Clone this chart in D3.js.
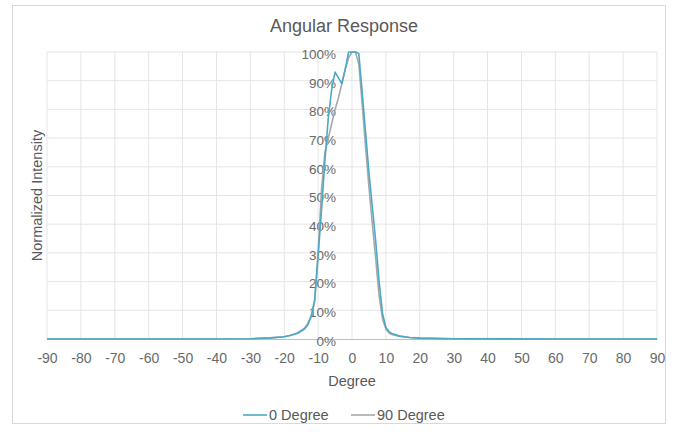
<!DOCTYPE html>
<html>
<head>
<meta charset="utf-8">
<script src="https://cdn.jsdelivr.net/npm/d3@7"></script>
<style>
  body { margin: 0; background: #fff; }
  text { font-family: 'Liberation Sans', Arial, sans-serif; fill: #595959; }
</style>
</head>
<body>
<script>
const w = 675;
const h = 432;

// data
const degrees = [-90, -60, -30, -24, -20, -18, -16, -14, -13, -12, -11, -10, -9, -8, -7, -6, -5, -4, -3, -2, -1, 0, 1, 2, 3, 4, 5, 6, 7, 8, 9, 10, 11, 12, 14, 17, 20, 30, 60, 90];
const deg0 = [0, 0, 0.1, 0.4, 0.8, 1.3, 2, 3.5, 5, 8, 14, 29, 45, 62, 77, 87, 93, 91, 89, 94, 100, 100, 100, 99.5, 86, 72, 58, 46, 34, 20, 9, 4, 2.5, 1.8, 1, 0.5, 0.3, 0.1, 0, 0];
const deg90 = [0, 0, 0.1, 0.4, 0.8, 1.3, 2.2, 3.8, 5.5, 8, 13, 30, 52, 65, 70, 75, 80, 84, 89, 94, 98, 100, 100, 96, 82, 67, 53, 40, 28, 15, 7, 3.5, 2, 1.5, 1, 0.5, 0.3, 0.1, 0, 0];
const seriesNames = ['0 Degree', '90 Degree'];
const seriesColors = ['#4ba9c8', '#a8a8a8'];
const xTicks = d3.range(-90, 91, 10);
const yTicks = d3.range(0, 101, 10);

const svg = d3.select('body')
  .append('svg')
  .attr('width', w)
  .attr('height', h);

// chart border
svg.append('rect')
  .attr('x', 12.5).attr('y', 5.5)
  .attr('width', 653).attr('height', 418)
  .attr('fill', 'none')
  .attr('stroke', '#d9d9d9');

const x = d3.scaleLinear().domain([-90, 90]).range([47, 657]);
const y = d3.scaleLinear().domain([0, 100]).range([339, 52]);

// gridlines
svg.append('g')
  .selectAll('line')
  .data(xTicks)
  .enter()
  .append('line')
  .attr('x1', d => x(d)).attr('x2', d => x(d))
  .attr('y1', y(100)).attr('y2', y(0))
  .attr('stroke', '#e5e5e5');

svg.append('g')
  .selectAll('line')
  .data(yTicks.slice(1))
  .enter()
  .append('line')
  .attr('x1', x(-90)).attr('x2', x(90))
  .attr('y1', d => y(d)).attr('y2', d => y(d))
  .attr('stroke', '#e5e5e5');

// x axis
const xAxis = svg.append('g')
  .attr('transform', `translate(0,${y(0)})`)
  .call(d3.axisBottom(x).tickValues(xTicks).tickSize(0).tickPadding(14).tickFormat(d => String(d)));
xAxis.select('.domain').attr('stroke', '#bfbfbf');
xAxis.selectAll('text').style('font-size', '14px').style('fill', '#6a6a6a');

// y axis labels sit at x = 0
const yAxis = svg.append('g')
  .attr('transform', `translate(${x(0) - 16},2)`)
  .call(d3.axisLeft(y).tickValues(yTicks).tickSize(0).tickPadding(0).tickFormat(d => d + '%'));
yAxis.select('.domain').remove();
yAxis.selectAll('text').style('font-size', '13.5px').style('fill', '#6a6a6a');

// lines
const line = d3.line()
  .x((d, i) => x(degrees[i]))
  .y(d => y(d));

[deg90, deg0].forEach((vals, k) => {
  svg.append('path')
    .datum(vals)
    .attr('d', line)
    .attr('fill', 'none')
    .attr('stroke', seriesColors[1 - k])
    .attr('stroke-width', 1.6)
    .attr('stroke-linejoin', 'round');
});

// titles
svg.append('text')
  .attr('x', 344).attr('y', 32)
  .attr('text-anchor', 'middle')
  .style('font-size', '18px')
  .text('Angular Response');

svg.append('text')
  .attr('transform', `translate(42,${(y(0) + y(100)) / 2}) rotate(-90)`)
  .attr('text-anchor', 'middle')
  .style('font-size', '14.5px')
  .text('Normalized Intensity');

svg.append('text')
  .attr('x', x(0)).attr('y', 386)
  .attr('text-anchor', 'middle')
  .style('font-size', '14.5px')
  .text('Degree');

// legend
const legend = svg.append('g').attr('transform', 'translate(243,420)');
const legendX = [0, 108];
seriesNames.forEach((name, i) => {
  const g = legend.append('g').attr('transform', `translate(${legendX[i]},0)`);
  g.append('line')
    .attr('x1', 0).attr('x2', 24)
    .attr('y1', -5).attr('y2', -5)
    .attr('stroke', seriesColors[i])
    .attr('stroke-width', 1.6);
  g.append('text')
    .attr('x', 26).attr('y', 0)
    .style('font-size', '14.5px')
    .text(name);
});
</script>
</body>
</html>
